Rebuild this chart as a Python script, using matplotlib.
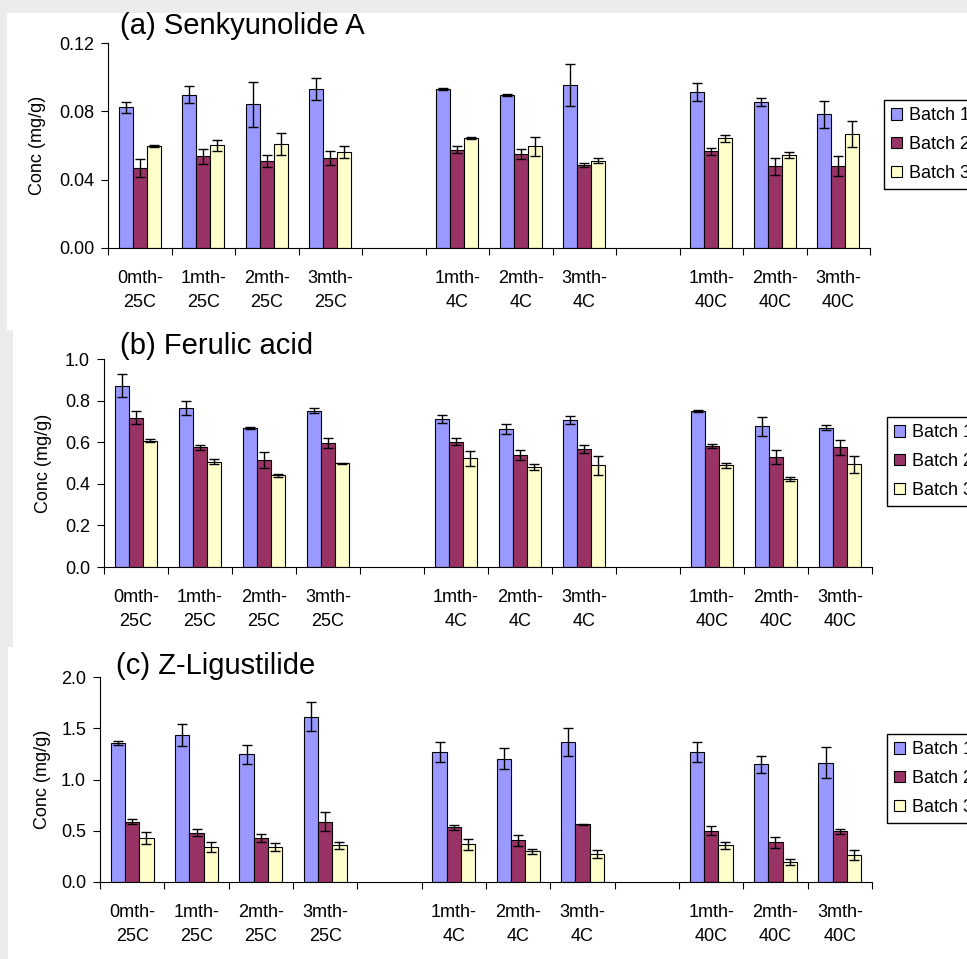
import matplotlib

matplotlib.use("Agg")
import matplotlib.pyplot as plt
import numpy as np
from matplotlib.patches import Patch, Rectangle

plt.rcParams["font.family"] = ["Liberation Sans", "DejaVu Sans"]

# category slots, empty strings are the gaps between storage temperatures
categories = ["0mth-\n25C", "1mth-\n25C", "2mth-\n25C", "3mth-\n25C", "",
              "1mth-\n4C", "2mth-\n4C", "3mth-\n4C", "",
              "1mth-\n40C", "2mth-\n40C", "3mth-\n40C"]
batches = ["Batch 1", "Batch 2", "Batch 3"]
batch_colors = ["#9999FF", "#993366", "#FFFFCC"]

# (a) Senkyunolide A
senk_b1 = [0.0823, 0.0898, 0.0841, 0.0931, 0.0931, 0.0898, 0.0954, 0.0913, 0.0855, 0.0782]
senk_b1_err = [0.0033, 0.0050, 0.0132, 0.0065, 0.0008, 0.0006, 0.0124, 0.0050, 0.0025, 0.0079]
senk_b2 = [0.0468, 0.0537, 0.0509, 0.0527, 0.0576, 0.0552, 0.0488, 0.0566, 0.0478, 0.0478]
senk_b2_err = [0.0053, 0.0045, 0.0034, 0.0041, 0.0020, 0.0030, 0.0012, 0.0022, 0.0049, 0.0059]
senk_b3 = [0.0595, 0.0601, 0.0609, 0.0560, 0.0644, 0.0595, 0.0511, 0.0642, 0.0544, 0.0667]
senk_b3_err = [0.0006, 0.0031, 0.0066, 0.0035, 0.0006, 0.0055, 0.0014, 0.0021, 0.0020, 0.0074]

# (b) Ferulic acid
ferulic_b1 = [0.872, 0.764, 0.669, 0.751, 0.710, 0.663, 0.705, 0.751, 0.676, 0.669]
ferulic_b1_err = [0.055, 0.034, 0.005, 0.012, 0.019, 0.025, 0.019, 0.005, 0.047, 0.012]
ferulic_b2 = [0.718, 0.575, 0.514, 0.596, 0.602, 0.539, 0.568, 0.581, 0.530, 0.575]
ferulic_b2_err = [0.031, 0.013, 0.040, 0.023, 0.017, 0.024, 0.019, 0.010, 0.034, 0.035]
ferulic_b3 = [0.608, 0.507, 0.440, 0.499, 0.522, 0.480, 0.488, 0.488, 0.425, 0.493]
ferulic_b3_err = [0.005, 0.013, 0.005, 0.003, 0.038, 0.013, 0.045, 0.012, 0.010, 0.039]

# (c) Z-Ligustilide
ligust_b1 = [1.352, 1.436, 1.245, 1.614, 1.271, 1.203, 1.368, 1.271, 1.148, 1.164]
ligust_b1_err = [0.020, 0.105, 0.096, 0.138, 0.099, 0.104, 0.138, 0.096, 0.081, 0.149]
ligust_b2 = [0.590, 0.480, 0.425, 0.590, 0.532, 0.408, 0.564, 0.502, 0.386, 0.493]
ligust_b2_err = [0.021, 0.036, 0.039, 0.097, 0.021, 0.055, 0.005, 0.045, 0.052, 0.021]
ligust_b3 = [0.425, 0.344, 0.344, 0.357, 0.370, 0.302, 0.272, 0.357, 0.191, 0.263]
ligust_b3_err = [0.058, 0.047, 0.040, 0.034, 0.053, 0.024, 0.039, 0.037, 0.029, 0.049]

panels = [
    {
        "title": "(a) Senkyunolide A",
        "values": [senk_b1, senk_b2, senk_b3],
        "errors": [senk_b1_err, senk_b2_err, senk_b3_err],
        "ylim": (0, 0.12),
        "yticks": [0.0, 0.04, 0.08, 0.12],
        "yfmt": "{:.2f}",
        "axes_px": (108, 43, 870, 248),
        "bg_px": (7, 13, 967, 330),
        "title_px": (120, 34),
        "ylabel_x": -0.081,
        "legend_px": (884, 100),
    },
    {
        "title": "(b) Ferulic acid",
        "values": [ferulic_b1, ferulic_b2, ferulic_b3],
        "errors": [ferulic_b1_err, ferulic_b2_err, ferulic_b3_err],
        "ylim": (0, 1.0),
        "yticks": [0.0, 0.2, 0.4, 0.6, 0.8, 1.0],
        "yfmt": "{:.1f}",
        "axes_px": (104, 359, 872, 567),
        "bg_px": (13, 330, 967, 647),
        "title_px": (120, 354),
        "ylabel_x": -0.068,
        "legend_px": (887, 417),
    },
    {
        "title": "(c) Z-Ligustilide",
        "values": [ligust_b1, ligust_b2, ligust_b3],
        "errors": [ligust_b1_err, ligust_b2_err, ligust_b3_err],
        "ylim": (0, 2.0),
        "yticks": [0.0, 0.5, 1.0, 1.5, 2.0],
        "yfmt": "{:.1f}",
        "axes_px": (100, 677, 872, 882),
        "bg_px": (8, 647, 967, 959),
        "title_px": (116, 674),
        "ylabel_x": -0.063,
        "legend_px": (887, 734),
    },
]

W, H = 967, 959
fig = plt.figure(figsize=(W / 100, H / 100), dpi=100, facecolor="#ececec")

slot_pos = [i for i, c in enumerate(categories) if c]
bar_w = 1 / 4.5  # Excel style gap width of 150%

for p in panels:
    bx0, by0, bx1, by1 = p["bg_px"]
    fig.patches.append(Rectangle((bx0 / W, 1 - by1 / H), (bx1 - bx0) / W, (by1 - by0) / H,
                                 transform=fig.transFigure, facecolor="white",
                                 edgecolor="none", zorder=-5))

    x0, y0, x1, y1 = p["axes_px"]
    ax = fig.add_axes([x0 / W, 1 - y1 / H, (x1 - x0) / W, (y1 - y0) / H])
    ax.set_facecolor("none")

    pos = np.array(slot_pos, dtype=float)
    for k in range(3):
        xs = pos + (k - 1) * bar_w
        ax.bar(xs, p["values"][k], width=bar_w, color=batch_colors[k],
               edgecolor="black", linewidth=0.8, zorder=2)
        ax.errorbar(xs, p["values"][k], yerr=p["errors"][k], fmt="none",
                    ecolor="black", elinewidth=1, capsize=3.6, capthick=1, zorder=3)

    ax.set_xlim(-0.5, len(categories) - 0.5)
    ax.set_ylim(*p["ylim"])
    ax.set_yticks(p["yticks"])
    ax.set_yticklabels([p["yfmt"].format(v) for v in p["yticks"]])

    ax.set_xticks(np.arange(len(categories) + 1) - 0.5)
    ax.set_xticklabels([])
    ax.set_xticks(np.arange(len(categories)), minor=True)
    ax.set_xticklabels(categories, minor=True, linespacing=1.5)
    ax.tick_params(axis="x", which="major", direction="out", length=5, width=0.8)
    ax.tick_params(axis="x", which="minor", length=0, pad=16, labelsize=13)
    ax.tick_params(axis="y", direction="out", length=5, width=0.8, pad=5, labelsize=13)

    for side in ("top", "right"):
        ax.spines[side].set_visible(False)
    for side in ("left", "bottom"):
        ax.spines[side].set_linewidth(0.8)

    ax.set_ylabel("Conc (mg/g)", fontsize=13)
    ax.yaxis.set_label_coords(p["ylabel_x"], 0.5)

    tx, ty = p["title_px"]
    fig.text(tx / W, 1 - ty / H, p["title"], fontsize=21, ha="left", va="baseline")

    handles = [Patch(facecolor=c, edgecolor="black", linewidth=0.8) for c in batch_colors]
    lx, ly = p["legend_px"]
    leg = fig.legend(handles, batches, loc="upper left", bbox_to_anchor=(lx / W, 1 - ly / H),
                     borderaxespad=0, fontsize=13, handlelength=0.6, handleheight=0.6,
                     handletextpad=0.4, labelspacing=0.65, borderpad=0.4,
                     fancybox=False, framealpha=1, edgecolor="black")
    leg.get_frame().set_linewidth(1)

fig.savefig("out.png", dpi=100, facecolor=fig.get_facecolor())
